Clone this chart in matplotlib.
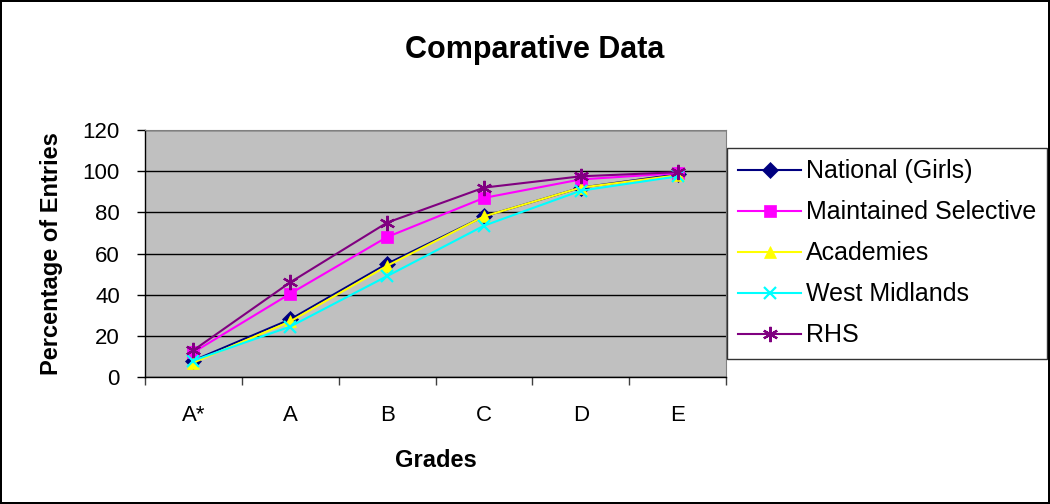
import matplotlib.pyplot as plt
import numpy as np

plt.rcParams['font.family'] = ['Liberation Sans', 'DejaVu Sans']

grades = ['A*', 'A', 'B', 'C', 'D', 'E']
national = [8, 28, 55, 78, 92, 98.5]
maintained = [12, 40.5, 68, 87, 96, 99]
academies = [7, 27, 54, 78, 92, 98]
west_midlands = [8, 24.5, 49, 73.5, 90.5, 97.5]
rhs = [13, 46, 75, 92, 97.5, 99.5]

series = [
    ('National (Girls)', national, '#000080', 'D', 8),
    ('Maintained Selective', maintained, '#FF00FF', 's', 8),
    ('Academies', academies, '#FFFF00', '^', 9),
    ('West Midlands', west_midlands, '#00FFFF', 'x', 9),
    ('RHS', rhs, '#800080', (6, 2, 0), 11),
]

fig = plt.figure(figsize=(10.5, 5.04), dpi=100)
fig.patch.set_facecolor('white')
fig.patch.set_edgecolor('black')
fig.patch.set_linewidth(1.5)

ax = fig.add_axes([145 / 1050, 1 - 377 / 504, 581 / 1050, 247 / 504])
ax.set_facecolor('#C0C0C0')

x = np.arange(len(grades))
for name, vals, col, mk, ms in series:
    ax.plot(x, vals, color=col, marker=mk, markersize=ms, linewidth=1.5,
            markeredgewidth=1.6 if mk in ('x', (6, 2, 0)) else 0.5,
            markeredgecolor=col, label=name)

ax.set_xlim(-0.5, len(grades) - 0.5)
ax.set_ylim(0, 120)
ax.set_yticks(range(0, 121, 20))
ax.yaxis.grid(True, color='black', linewidth=1)
ax.set_axisbelow(True)

ax.set_xticks(x)
ax.set_xticklabels(grades)
ax.set_xticks(np.arange(-0.5, len(grades), 1), minor=True)
ax.tick_params(axis='x', which='major', length=0, pad=20, labelsize=16)
ax.tick_params(axis='x', which='minor', length=6, width=1, color='#404040')
ax.tick_params(axis='y', length=6, width=1, labelsize=16, pad=12)

for s in ['top', 'right']:
    ax.spines[s].set_color('#808080')
for s in ['left', 'bottom']:
    ax.spines[s].set_color('black')
    ax.spines[s].set_linewidth(1)

ax.set_xlabel('Grades', fontsize=17, fontweight='bold', labelpad=17)
ax.set_ylabel('Percentage of Entries', fontsize=17, fontweight='bold', labelpad=14)
fig.text(535 / 1050, 1 - 50 / 504, 'Comparative Data', ha='center', va='center',
         fontsize=22, fontweight='bold')

leg = fig.legend(loc='upper left', bbox_to_anchor=(727 / 1050, 1 - 148 / 504),
                 fontsize=18, frameon=True, fancybox=False, edgecolor='black',
                 handlelength=2.5, handletextpad=0.2, labelspacing=0.68,
                 borderpad=0.45, borderaxespad=0)
leg.get_frame().set_linewidth(1)

fig.savefig('out.png', dpi=100)
